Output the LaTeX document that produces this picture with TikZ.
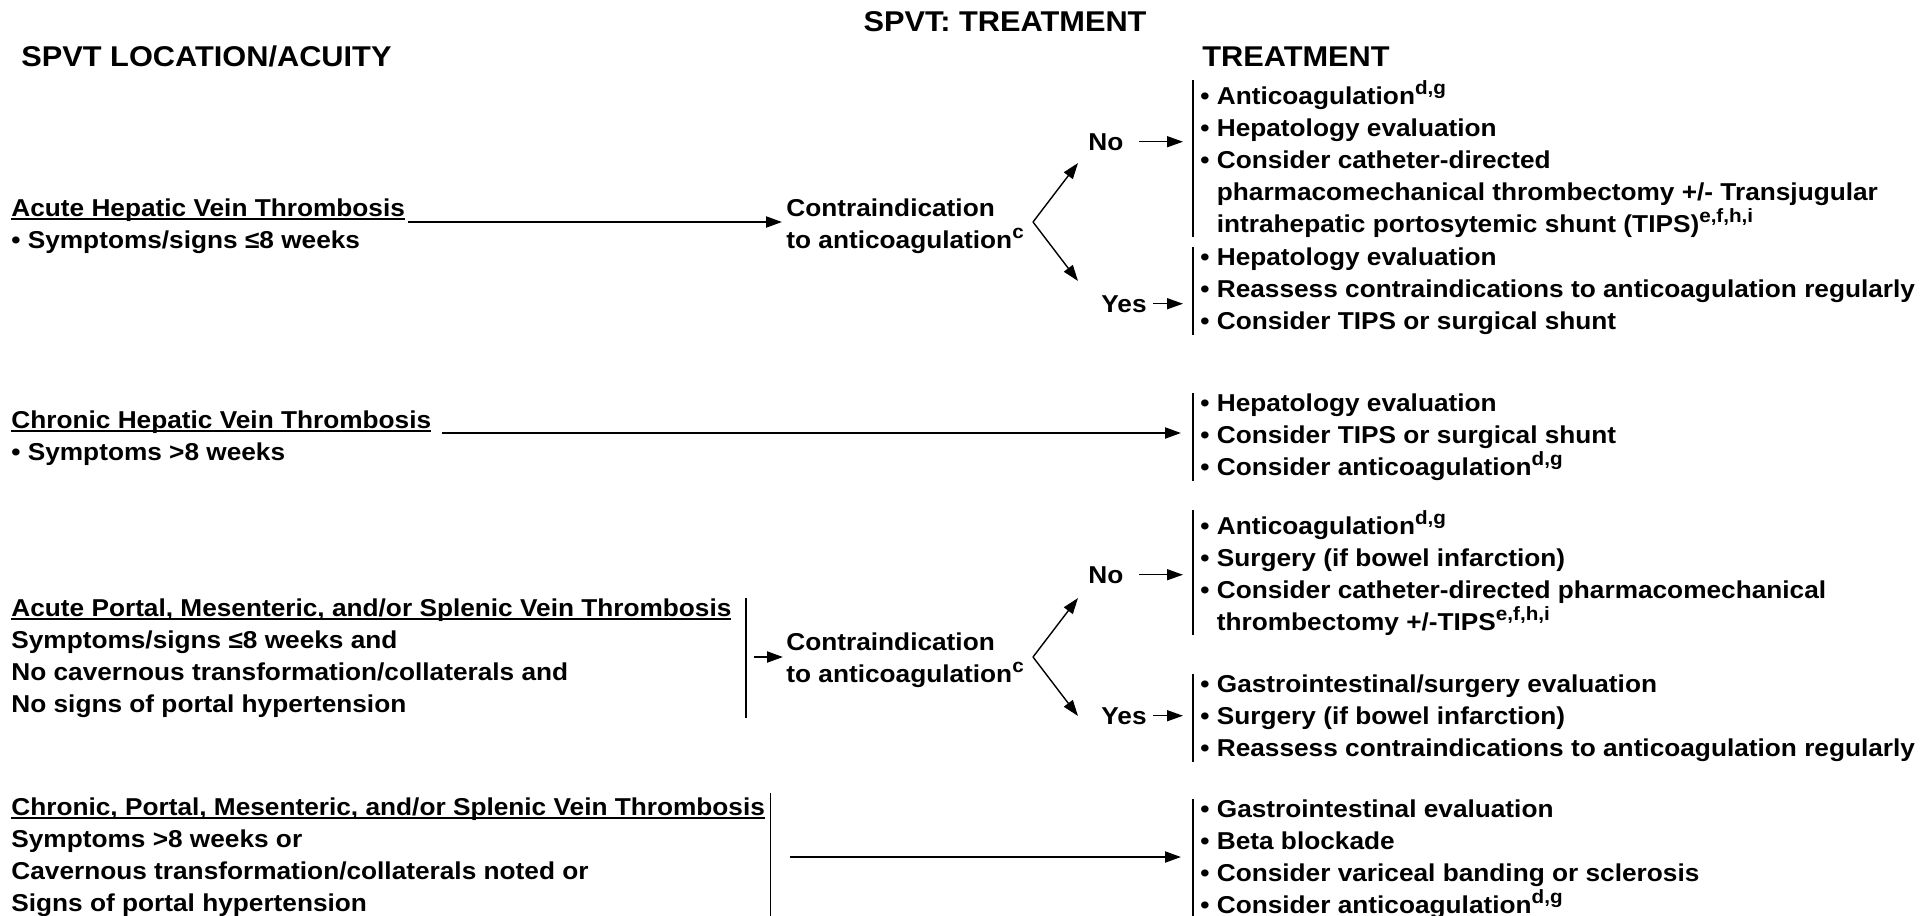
\documentclass[tikz,border=0pt]{standalone}
\usepackage{fontspec}
\setmainfont{Liberation Sans}[BoldFont={Liberation Sans Bold},FakeStretch=1.075]
\usetikzlibrary{arrows.meta}

\newcommand\bodyfont{\fontsize{12.2}{16}\selectfont\bfseries}
\newcommand\headfont{\fontsize{14.3}{17}\selectfont\bfseries}
\newcommand\ulin[1]{\setbox0\hbox{#1}\rlap{\rule[-2pt]{\wd0}{0.9pt}}\box0}
\newcommand\ind{\phantom{• }}
\newcommand\sups[1]{\raisebox{4.6pt}{\fontsize{9.6}{10}\selectfont #1}}

\begin{document}
\begin{tikzpicture}[x=0.5pt,y=-0.5pt,
    txt/.style={inner sep=0pt,anchor=base west,align=left,font=\bodyfont},
    head/.style={inner sep=0pt,anchor=base west,font=\headfont},
    tlist/.style={txt,inner xsep=3.5pt},
    arr/.style={-{Triangle[length=8pt,width=5.5pt]},line width=1pt},
    fork/.style={-{Triangle[length=8pt,width=5.5pt]},line width=0.7pt},
    bar/.style={line width=0.8pt}
  ]
  \useasboundingbox (0,0) rectangle (1929,916);

  % headings
  \node[head,anchor=base] (title)   at (1005,31) {SPVT: TREATMENT};
  \node[head]             (lochead) at (21,66)   {SPVT LOCATION/ACUITY};
  \node[head]             (trhead)  at (1202,66) {TREATMENT};

  % acute hepatic (nodes sit on their last line)
  \node[txt] (ahvt) at (11,248) {\ulin{Acute Hepatic Vein Thrombosis}\\• Symptoms/signs ≤8 weeks};
  \node[txt] (ci1)  at (786,248) {Contraindication\\to anticoagulation\sups{c}};
  \coordinate (f1) at (1033,222);
  \node[txt] (no1)  at (1088,150) {No};
  \node[txt] (yes1) at (1101,312) {Yes};
  \node[tlist] (tl1) at (1193,232) {• Anticoagulation\sups{d,g}\\• Hepatology evaluation\\• Consider catheter-directed\\\ind pharmacomechanical thrombectomy +/- Transjugular\\\ind intrahepatic portosytemic shunt (TIPS)\sups{e,f,h,i}};
  \node[tlist] (tl2) at (1193,329) {• Hepatology evaluation\\• Reassess contraindications to anticoagulation regularly\\• Consider TIPS or surgical shunt};

  % chronic hepatic
  \node[txt] (chvt) at (11,460) {\ulin{Chronic Hepatic Vein Thrombosis}\\• Symptoms >8 weeks};
  \node[tlist] (tl3) at (1193,475) {• Hepatology evaluation\\• Consider TIPS or surgical shunt\\• Consider anticoagulation\sups{d,g}};
  \coordinate (r2) at (0,433);

  % acute portal
  \node[txt] (apmt) at (11,712) {\ulin{Acute Portal, Mesenteric, and/or Splenic Vein Thrombosis}\\Symptoms/signs ≤8 weeks and\\No cavernous transformation/collaterals and\\No signs of portal hypertension};
  \node[txt] (ci2)  at (786,682) {Contraindication\\to anticoagulation\sups{c}};
  \coordinate (f2) at (1033,657);
  \node[txt] (no2)  at (1088,583) {No};
  \node[txt] (yes2) at (1101,724) {Yes};
  \node[tlist] (tl4) at (1193,630) {• Anticoagulation\sups{d,g}\\• Surgery (if bowel infarction)\\• Consider catheter-directed pharmacomechanical\\\ind thrombectomy +/-TIPS\sups{e,f,h,i}};
  \node[tlist] (tl5) at (1193,756) {• Gastrointestinal/surgery evaluation\\• Surgery (if bowel infarction)\\• Reassess contraindications to anticoagulation regularly};

  % chronic portal
  \node[txt] (cpmt) at (11,911) {\ulin{Chronic, Portal, Mesenteric, and/or Splenic Vein Thrombosis}\\Symptoms >8 weeks or\\Cavernous transformation/collaterals noted or\\Signs of portal hypertension};
  \node[tlist] (tl6) at (1193,913) {• Gastrointestinal evaluation\\• Beta blockade\\• Consider variceal banding or sclerosis\\• Consider anticoagulation\sups{d,g}};
  \coordinate (r4) at (0,857);

  % bars
  \foreach \lst in {tl1,tl2,tl3,tl4,tl5,tl6}
    \draw[bar] (\lst.north west) -- (\lst.south west);
  \draw[bar] ([xshift=7pt]apmt.north east) coordinate (b3) -- ([xshift=7pt]apmt.south east);
  \draw[bar] ([xshift=2.5pt,yshift=2pt]cpmt.north east) coordinate (b4) -- ([xshift=2.5pt]cpmt.south east);

  % arrows
  \draw[arr,shorten <=1.5pt,shorten >=2pt] (ahvt.east |- f1) -- (ci1.west |- f1);
  \draw[arr,shorten <=5pt,shorten >=6pt] (chvt.east |- r2) -- (tl3.west |- r2);
  \draw[arr,shorten <=4pt,shorten >=1.5pt] (b3 |- f2) -- (ci2.west |- f2);
  \draw[arr,shorten <=10pt,shorten >=6pt] (b4 |- r4) -- (tl6.west |- r4);
  \foreach \fk in {f1,f2} {
    \draw[fork] (\fk) -- ++(45,-59);
    \draw[fork] (\fk) -- ++(45,59);
  }
  \draw[fork,shorten <=7.5pt,shorten >=5pt] (no1.east) -- (tl1.west |- no1.east);
  \draw[fork,shorten <=3pt,shorten >=5pt] (yes1.east) -- (tl2.west |- yes1.east);
  \draw[fork,shorten <=7.5pt,shorten >=5pt] (no2.east) -- (tl4.west |- no2.east);
  \draw[fork,shorten <=3pt,shorten >=5pt] (yes2.east) -- (tl5.west |- yes2.east);
\end{tikzpicture}
\end{document}
